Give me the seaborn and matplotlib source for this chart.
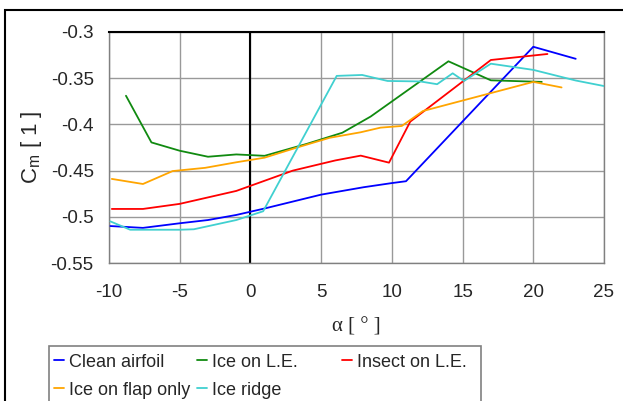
import numpy as np
import pandas as pd
import matplotlib
matplotlib.use("Agg")
import matplotlib.pyplot as plt
from matplotlib.patches import Rectangle
from matplotlib.lines import Line2D
import seaborn as sns

# Pitching moment coefficient vs angle of attack
clean_alpha = [-9.9, -7.6, -5, -3, -1, 1, 5, 8, 10, 11, 20, 23]
clean_cm = [-0.510, -0.512, -0.507, -0.5035, -0.498, -0.491, -0.476, -0.468, -0.4635, -0.4615, -0.316, -0.329]

ice_le_alpha = [-8.8, -7, -5, -3, -1, 1, 4, 6.5, 8.5, 14, 17, 20.6]
ice_le_cm = [-0.369, -0.4195, -0.4285, -0.435, -0.4325, -0.434, -0.421, -0.409, -0.3915, -0.3317, -0.3523, -0.354]

insect_alpha = [-9.8, -7.6, -5, -3, -1, 1, 3, 6, 7.8, 9.8, 11.3, 17, 21]
insect_cm = [-0.4915, -0.4915, -0.486, -0.479, -0.472, -0.461, -0.450, -0.439, -0.4338, -0.4414, -0.397, -0.3303, -0.3238]

flap_alpha = [-9.8, -7.6, -5.5, -3.2, -1, 1, 3.3, 5.6, 7.8, 9.2, 10.7, 12.2, 20, 22]
flap_cm = [-0.459, -0.4645, -0.4505, -0.447, -0.441, -0.436, -0.425, -0.4145, -0.4085, -0.4035, -0.4017, -0.3855, -0.354, -0.360]

ridge_alpha = [-9.9, -8.5, -5, -4, -1, 0.9, 6.1, 7.9, 9.7, 12, 13.2, 14.3, 15.1, 17, 20, 23, 25]
ridge_cm = [-0.505, -0.514, -0.514, -0.5135, -0.5035, -0.494, -0.3475, -0.3465, -0.353, -0.3535, -0.3565, -0.3447, -0.353, -0.3343, -0.341, -0.3525, -0.3585]

series_names = ["Clean airfoil", "Ice on L.E.", "Insect on L.E.", "Ice on flap only", "Ice ridge"]
series_colors = ["#0000ff", "#108a10", "#ff0000", "#ffa500", "#40d0d0"]
x_ticks = [-10, -5, 0, 5, 10, 15, 20, 25]
y_ticks = [-0.55, -0.5, -0.45, -0.4, -0.35, -0.3]

frames = []
for name, a, cm in zip(series_names,
                       [clean_alpha, ice_le_alpha, insect_alpha, flap_alpha, ridge_alpha],
                       [clean_cm, ice_le_cm, insect_cm, flap_cm, ridge_cm]):
    frames.append(pd.DataFrame({"alpha": a, "cm": cm, "case": name}))
df = pd.concat(frames, ignore_index=True)

sns.set_style("white")
plt.rcParams["font.family"] = ["Liberation Sans", "DejaVu Sans"]
plt.rcParams["axes.unicode_minus"] = False

fig = plt.figure(figsize=(6.23, 4.01), dpi=100)
ax = fig.add_axes([109 / 623, 1 - 263 / 401, 495 / 623, 231 / 401])

sns.lineplot(data=df, x="alpha", y="cm", hue="case", hue_order=series_names,
             palette=series_colors, estimator=None, sort=False, lw=1.3,
             legend=False, ax=ax, zorder=3)

ax.set_xlim(-10, 25)
ax.set_ylim(-0.55, -0.3)
ax.set_xticks(x_ticks)
ax.set_yticks(y_ticks)
ax.set_yticklabels([f"{v:g}" for v in y_ticks])
ax.tick_params(axis="both", length=0, labelsize=13.5)
ax.tick_params(axis="y", pad=11)
ax.tick_params(axis="x", pad=15)
ax.grid(True, color="#999999", lw=1)

for s in ["left", "right", "bottom"]:
    ax.spines[s].set_color("#808080")
    ax.spines[s].set_linewidth(1)
ax.spines["top"].set_color("black")
ax.spines["top"].set_linewidth(1.5)
ax.axvline(0, color="black", lw=1.5, zorder=2)

ax.set_xlabel("α [ ° ]", family=["Liberation Serif", "DejaVu Serif"], fontsize=15, labelpad=12)
ax.set_ylabel(r"C$_\mathregular{m}$ [ 1 ]", fontsize=16, labelpad=5)

# legend: three single-column legends inside one frame, like the spreadsheet layout
cols = [[0, 3], [1, 4], [2]]
col_x = [50, 193, 338]
for idx, cx in zip(cols, col_x):
    handles = [Line2D([], [], color=series_colors[i], lw=1.3) for i in idx]
    labels = [series_names[i] for i in idx]
    fig.legend(handles, labels, loc="upper left",
               bbox_to_anchor=(cx / 623, 1 - 350 / 401), frameon=False,
               fontsize=13, handlelength=0.6, handletextpad=0.25,
               labelspacing=0.62, borderpad=0.2, borderaxespad=0)
fig.patches.append(Rectangle((49 / 623, -0.05), 432 / 623, 0.05 + 55 / 401,
                             transform=fig.transFigure, fill=False,
                             ec="#808080", lw=1.2))

# outer chart border
fig.patches.append(Rectangle((5 / 623, -0.05), 1.0, 0.05 + 391 / 401,
                             transform=fig.transFigure, fill=False,
                             ec="black", lw=1.5))

fig.savefig("out.png", dpi=100)
